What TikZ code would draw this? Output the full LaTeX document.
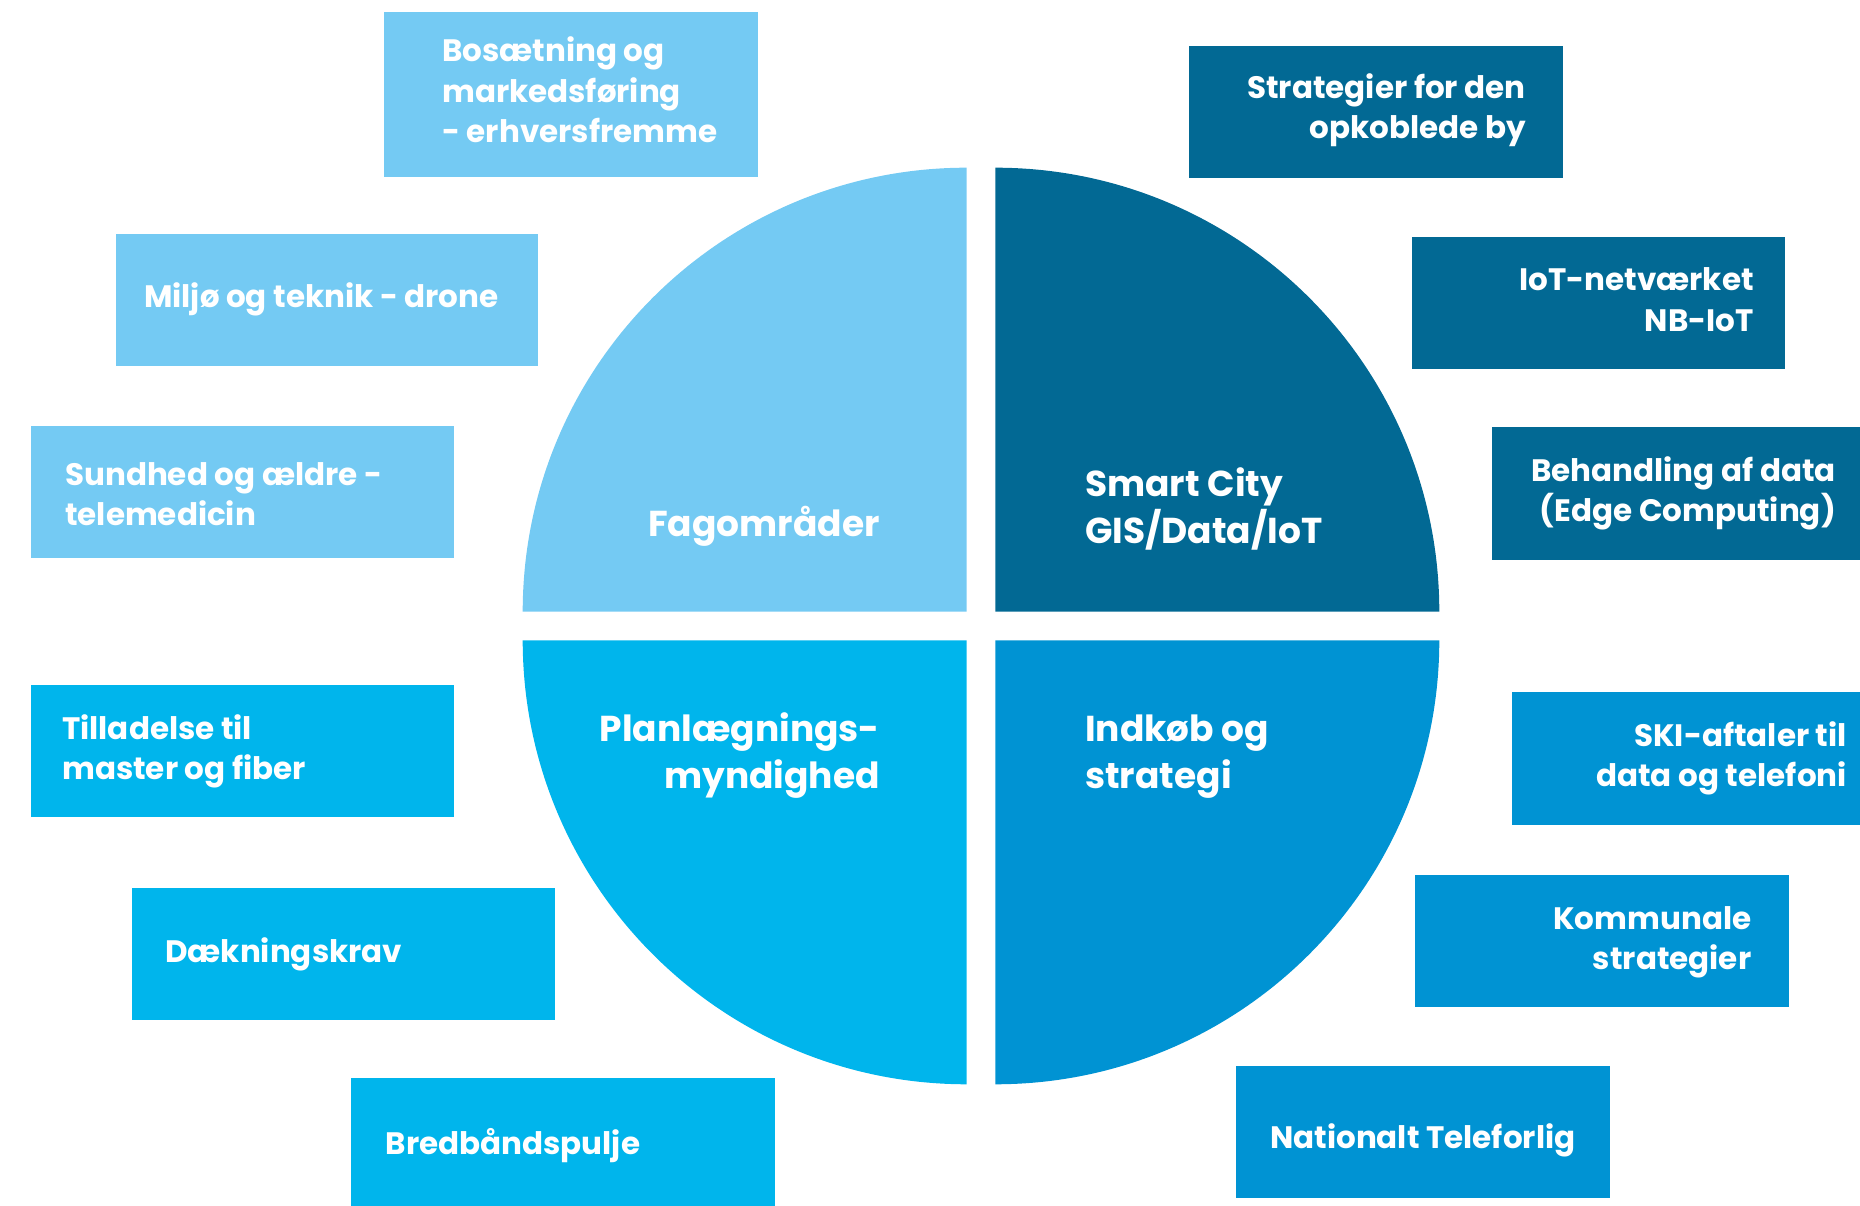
\documentclass[tikz,border=0pt]{standalone}
\usepackage{fontspec}
\setmainfont{Poppins}
\usepackage{tikz}

\definecolor{fagblue}{RGB}{116,202,243}
\definecolor{smartblue}{RGB}{2,105,148}
\definecolor{planblue}{RGB}{0,181,236}
\definecolor{indkobblue}{RGB}{0,147,211}

\begin{document}
\begin{tikzpicture}
  [x=1pt, y=1pt,
   box/.style={fill=#1, draw=none, anchor=south west, inner sep=0pt},
   itemtxt/.style={text=white, inner sep=0pt,
     font=\bfseries\fontsize{31}{40.5}\selectfont},
   quadtxt/.style={text=white, inner sep=0pt,
     font=\bfseries\fontsize{36}{47}\selectfont}]
  \useasboundingbox (0,0) rectangle (1860,1206);

  % the four quarters
  \fill[fagblue]    (966.7,594.3) -- ++(-444,0) arc (180:90:444) -- cycle;
  \fill[smartblue]  (995.3,594.3) -- ++(0,444) arc (90:0:444) -- cycle;
  \fill[planblue]   (966.7,565.7) -- ++(-444,0) arc (180:270:444) -- cycle;
  \fill[indkobblue] (995.3,565.7) -- ++(444,0) arc (0:-90:444) -- cycle;

  % labels sit on the baseline of their last line
  \node[quadtxt, anchor=base east, align=right] (fag) at (880,669) {Fagområder};
  \node[quadtxt, anchor=base west, align=left] (smart) at (1085,662) {Smart City\\GIS/Data/IoT};
  \node[quadtxt, anchor=base east, align=right] (plan) at (880,417) {Planlægnings-\\myndighed};
  \node[quadtxt, anchor=base west, align=left] (indkob) at (1085,417) {Indkøb og\\strategi};

  % left side, Fagområder
  \node[box=fagblue, minimum width=374, minimum height=165] (bosaet) at (384,1029) {};
  \node[box=fagblue, minimum width=422, minimum height=132] (miljo) at (116,840) {};
  \node[box=fagblue, minimum width=423, minimum height=132] (sundhed) at (31,648) {};
  \node[itemtxt, anchor=base west, align=left] (bosaettxt) at (442,1063) {Bosætning og\\markedsføring\\- erhversfremme};
  \node[itemtxt, anchor=base west, align=left] (miljotxt) at (144,898.3) {Miljø og teknik - drone};
  \node[itemtxt, anchor=base west, align=left] (sundhedtxt) at (65,680) {Sundhed og ældre -\\telemedicin};

  % left side, Planlægningsmyndighed
  \node[box=planblue, minimum width=423, minimum height=132] (tillad) at (31,389) {};
  \node[box=planblue, minimum width=423, minimum height=132] (daekning) at (132,186) {};
  \node[box=planblue, minimum width=424, minimum height=128] (bredbaand) at (351,0) {};
  \node[itemtxt, anchor=base west, align=left] (tilladtxt) at (62,426) {Tilladelse til\\master og fiber};
  \node[itemtxt, anchor=base west, align=left] (daekningtxt) at (165,243.4) {Dækningskrav};
  \node[itemtxt, anchor=base west, align=left] (bredbaandtxt) at (385.5,51) {Bredbåndspulje};

  % right side, Smart City
  \node[box=smartblue, minimum width=374, minimum height=132] (strat) at (1189,1028) {};
  \node[box=smartblue, minimum width=373, minimum height=132] (iot) at (1412,837) {};
  \node[box=smartblue, minimum width=368, minimum height=133] (behandl) at (1492,646) {};
  \node[itemtxt, anchor=base east, align=right] (strattxt) at (1526,1067) {Strategier for den\\opkoblede by};
  \node[itemtxt, anchor=base east, align=right] (iottxt) at (1754,874.5) {IoT-netværket\\NB-IoT};
  \node[itemtxt, anchor=base east, align=right] (behandltxt) at (1836,684) {Behandling af data\\(Edge Computing)};

  % right side, Indkøb og strategi
  \node[box=indkobblue, minimum width=348, minimum height=133] (ski) at (1512,381) {};
  \node[box=indkobblue, minimum width=374, minimum height=132] (kommun) at (1415,199) {};
  \node[box=indkobblue, minimum width=374, minimum height=132] (national) at (1236,8) {};
  \node[itemtxt, anchor=base east, align=right] (skitxt) at (1847,419) {SKI-aftaler til\\data og telefoni};
  \node[itemtxt, anchor=base east, align=right] (kommuntxt) at (1751.5,236) {Kommunale\\strategier};
  \node[itemtxt, anchor=base west, align=left] (nationaltxt) at (1270,57) {Nationalt Teleforlig};
\end{tikzpicture}
\end{document}
